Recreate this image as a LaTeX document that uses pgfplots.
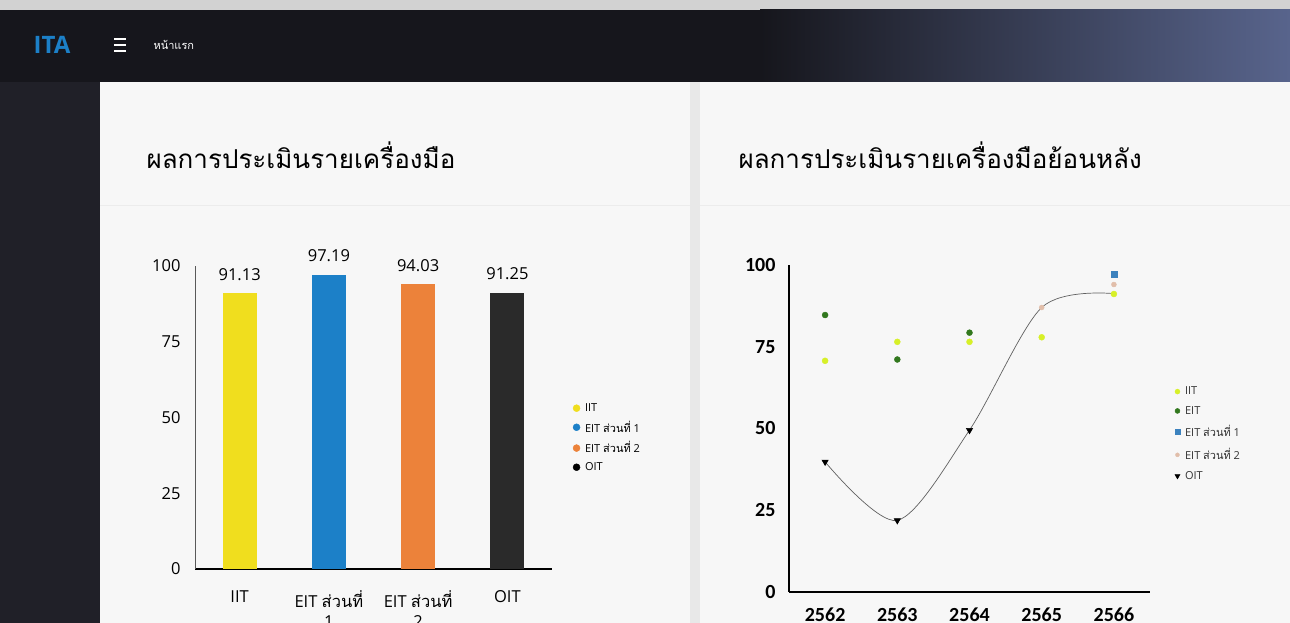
\documentclass[border=0pt]{standalone}
\usepackage{fontspec}
\usepackage{pgfplots}
\pgfplotsset{compat=1.18}
\setmainfont{Open Sans}
\newfontfamily\thaifont[Script=Thai]{Loma}
\newfontfamily\carlito{Carlito}

\definecolor{barYellow}{RGB}{240,222,30}
\definecolor{barBlue}{RGB}{28,128,200}
\definecolor{barOrange}{RGB}{236,130,58}
\definecolor{barBlack}{RGB}{42,42,42}
\definecolor{iitLime}{RGB}{215,240,40}
\definecolor{eitGreen}{RGB}{50,120,30}
\definecolor{eitBlue}{RGB}{60,130,190}
\definecolor{eitPink}{RGB}{225,190,170}
\definecolor{headDark}{RGB}{22,22,28}
\definecolor{headBlue}{RGB}{88,100,140}
\definecolor{sideDark}{RGB}{32,32,40}
\definecolor{pageGray}{RGB}{232,232,232}
\definecolor{panelWhite}{RGB}{247,247,247}

\begin{document}
\begin{tikzpicture}[x=1pt,y=1pt]
\path[use as bounding box, clip] (0,0) rectangle (1290,623);

% screen frame
\fill[pageGray] (0,0) rectangle (1290,623);
\fill[gray!35] (0,613) rectangle (1290,623);
\fill[headDark] (0,541) rectangle (760,613);
\shade[left color=headDark, right color=headBlue] (760,541) rectangle (1290,613);
\fill[sideDark] (0,0) rectangle (100,541);
\fill[panelWhite] (100,0) rectangle (690,541);
\fill[panelWhite] (700,0) rectangle (1290,541);
\draw[gray!15] (100,418) -- (690,418) (700,418) -- (1290,418);

% header
\node[text=barBlue, font=\bfseries\fontsize{24}{26}\selectfont] at (52,578) {ITA};
\foreach \yy in {572,578,584} \draw[white, line width=2pt] (114,\yy) -- (126,\yy);
\node[anchor=west, text=white, font=\thaifont\fontsize{11}{13}\selectfont] at (150,578) {หน้าแรก};

% titles
\node[anchor=west, font=\thaifont\fontsize{26}{30}\selectfont] at (143,468) {ผลการประเมินรายเครื่องมือ};
\node[anchor=west, font=\thaifont\fontsize{26}{30}\selectfont] at (735,468) {ผลการประเมินรายเครื่องมือย้อนหลัง};

% left chart
\begin{axis}[
  at={(195pt,54pt)}, anchor=south west,
  scale only axis, width=357pt, height=303pt,
  xmin=-0.5, xmax=3.5, ymin=0, ymax=100,
  axis x line*=bottom, axis y line*=left,
  x axis line style={-, black, line width=1.2pt},
  y axis line style={-, gray!70!black, line width=0.6pt},
  major tick length=0pt,
  xtick={0,1,2,3},
  xticklabels={IIT, {EIT {\thaifont ส่วนที่}\\1}, {EIT {\thaifont ส่วนที่}\\2}, OIT},
  ytick={0,25,50,75,100},
  /pgf/number format/assume math mode=true,
  yticklabel style={font=\fontsize{16.5}{19}\selectfont, xshift=-11pt},
  xticklabel style={font=\fontsize{16.5}{20}\selectfont, align=center, yshift=-18pt},
  legend style={at={(1.05,0.56)}, anchor=north west, draw=none, fill=none,
    font=\fontsize{11}{13}\selectfont, row sep=4pt},
  legend cell align=left,
  clip=false,
]
\addplot[ybar, bar width=34pt, bar shift=0pt, fill=barYellow, draw=none, forget plot,
  nodes near coords, point meta=explicit symbolic,
  every node near coord/.append style={font=\fontsize{16.5}{19}\selectfont, yshift=9pt}]
  coordinates {(0,91.13) [91.13]};
\addplot[ybar, bar width=34pt, bar shift=0pt, fill=barBlue, draw=none, forget plot,
  nodes near coords, point meta=explicit symbolic,
  every node near coord/.append style={font=\fontsize{16.5}{19}\selectfont, yshift=9pt}]
  coordinates {(1,97.19) [97.19]};
\addplot[ybar, bar width=34pt, bar shift=0pt, fill=barOrange, draw=none, forget plot,
  nodes near coords, point meta=explicit symbolic,
  every node near coord/.append style={font=\fontsize{16.5}{19}\selectfont, yshift=9pt}]
  coordinates {(2,94.03) [94.03]};
\addplot[ybar, bar width=34pt, bar shift=0pt, fill=barBlack, draw=none, forget plot,
  nodes near coords, point meta=explicit symbolic,
  every node near coord/.append style={font=\fontsize{16.5}{19}\selectfont, yshift=9pt}]
  coordinates {(3,91.25) [91.25]};
\addlegendimage{only marks, mark=*, mark size=3.5pt, color=barYellow}
\addlegendentry{\hspace{3pt}IIT}
\addlegendimage{only marks, mark=*, mark size=3.5pt, color=barBlue}
\addlegendentry{\hspace{3pt}EIT {\thaifont ส่วนที่} 1}
\addlegendimage{only marks, mark=*, mark size=3.5pt, color=barOrange}
\addlegendentry{\hspace{3pt}EIT {\thaifont ส่วนที่} 2}
\addlegendimage{only marks, mark=*, mark size=3.5pt, color=black}
\addlegendentry{\hspace{3pt}OIT}
\end{axis}

% right chart
\begin{axis}[
  at={(789pt,31pt)}, anchor=south west,
  scale only axis, width=361pt, height=327pt,
  xmin=-0.5, xmax=4.5, ymin=0, ymax=100,
  axis x line*=bottom, axis y line*=left,
  x axis line style={-, black, line width=1.2pt},
  y axis line style={-, black, line width=1.2pt},
  major tick length=0pt,
  xtick={0,1,2,3,4},
  xticklabels={2562,2563,2564,2565,2566},
  ytick={0,25,50,75,100},
  /pgf/number format/assume math mode=true,
  yticklabel style={font=\carlito\bfseries\fontsize{20}{22}\selectfont, xshift=-10pt},
  xticklabel style={font=\carlito\bfseries\fontsize{20}{22}\selectfont, yshift=-12pt},
  legend style={at={(1.06,0.64)}, anchor=north west, draw=none, fill=none,
    font=\fontsize{11}{13}\selectfont, text=gray!40!black, row sep=6pt},
  legend cell align=left,
  clip=false,
]
\addplot[only marks, mark=*, mark size=3pt, color=iitLime, forget plot]
  coordinates {(0,70.7) (1,76.5) (2,76.5) (3,77.9) (4,91.13)};
\addplot[only marks, mark=*, mark size=3pt, color=eitGreen, forget plot]
  coordinates {(0,84.7) (1,71.1) (2,79.3)};
\addplot[only marks, mark=square*, mark size=3pt, color=eitBlue, forget plot]
  coordinates {(4,97.19)};
\addplot[only marks, mark=*, mark size=2.5pt, color=eitPink, forget plot]
  coordinates {(3,87.0) (4,94.03)};
\addplot[smooth, color=gray!75!black, line width=0.7pt, forget plot,
  mark=triangle*, mark size=3.5pt, mark indices={1,2,3},
  mark options={rotate=180, fill=black, draw=black}]
  coordinates {(0,39.8) (1,21.9) (2,49.5) (3,87.0) (4,91.25)};
\addlegendimage{only marks, mark=*, mark size=2.5pt, color=iitLime}
\addlegendentry{\hspace{3pt}IIT}
\addlegendimage{only marks, mark=*, mark size=2.5pt, color=eitGreen}
\addlegendentry{\hspace{3pt}EIT}
\addlegendimage{only marks, mark=square*, mark size=2.5pt, color=eitBlue}
\addlegendentry{\hspace{3pt}EIT {\thaifont ส่วนที่} 1}
\addlegendimage{only marks, mark=*, mark size=2pt, color=eitPink}
\addlegendentry{\hspace{3pt}EIT {\thaifont ส่วนที่} 2}
\addlegendimage{only marks, mark=triangle*, mark size=3pt, mark options={rotate=180}, color=black}
\addlegendentry{\hspace{3pt}OIT}
\end{axis}
\end{tikzpicture}
\end{document}
